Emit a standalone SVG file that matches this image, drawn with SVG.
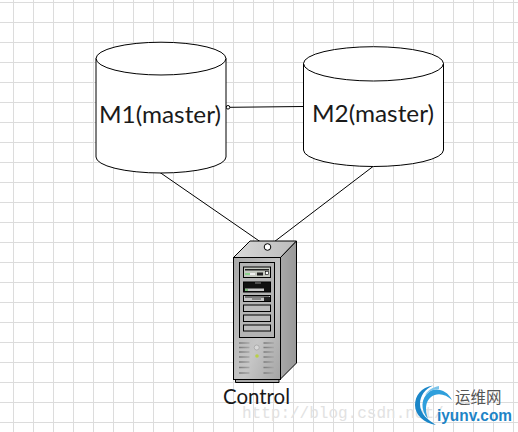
<svg xmlns="http://www.w3.org/2000/svg" width="518" height="432" viewBox="0 0 518 432">
<style>
.g{stroke:#dcdcdc;stroke-width:1;fill:none}
.c{stroke:#000;stroke-width:1;fill:#fff}
.w{stroke:#000;stroke-width:1;fill:none}
.t{font-family:"Lato","Liberation Sans",sans-serif;fill:#1a1a1a}
.bay{fill:#bdbdbd;stroke:#000;stroke-width:1}
.v{stroke-width:1.6;stroke:url(#vent);fill:none}
</style>
<defs>
<linearGradient id="front" x1="0" y1="0" x2="1" y2="1"><stop offset="0" stop-color="#a9a9a9"/><stop offset=".6" stop-color="#c6c6c6"/><stop offset="1" stop-color="#a4a4a4"/></linearGradient>
<linearGradient id="side" x1="0" y1="0" x2="1" y2="0"><stop offset="0" stop-color="#a8a8a8"/><stop offset="1" stop-color="#989898"/></linearGradient>
<linearGradient id="top" x1="0" y1="0" x2="1" y2="0"><stop offset="0" stop-color="#d8d8d8"/><stop offset="1" stop-color="#bcbcbc"/></linearGradient>
<linearGradient id="vent" x1="0" y1="0" x2="1" y2="0"><stop offset="0" stop-color="#7a7a7a"/><stop offset="1" stop-color="#a8a8a8"/></linearGradient>
</defs>
<rect width="518" height="432" fill="#fff"/>
<path class="g" d="M13.5 0V432M33.5 0V432M53.5 0V432M73.5 0V432M93.5 0V432M113.5 0V432M133.5 0V432M153.5 0V432M173.5 0V432M193.5 0V432M213.5 0V432M233.5 0V432M253.5 0V432M273.5 0V432M293.5 0V432M313.5 0V432M333.5 0V432M353.5 0V432M373.5 0V432M393.5 0V432M413.5 0V432M433.5 0V432M453.5 0V432M473.5 0V432M493.5 0V432M513.5 0V432M0 2.5H518M0 22.5H518M0 42.5H518M0 62.5H518M0 82.5H518M0 102.5H518M0 122.5H518M0 142.5H518M0 162.5H518M0 182.5H518M0 202.5H518M0 222.5H518M0 242.5H518M0 262.5H518M0 282.5H518M0 302.5H518M0 322.5H518M0 342.5H518M0 362.5H518M0 382.5H518M0 402.5H518M0 422.5H518"/>
<text x="242" y="418" font-family="'Liberation Mono',monospace" font-size="16" fill="#e2e2e2">http://blog.csdn.net/</text>
<g id="connectors">
<path class="w" d="M230 107.3L303.5 106.5M160 172.5L265 245M373 166.500L270 245"/>
<circle class="c" cx="228" cy="107.3" r="1.8"/>
</g>
<g id="m1">
<path class="c" d="M96 58.5A65 16.3 0 0 1 226 58.5V157A65 16 0 0 1 96 157Z"/>
<path class="w" d="M96 58.5A65 16.5 0 0 0 226 58.5"/>
<text class="t" x="160" y="123" font-size="24" text-anchor="middle" textLength="122" lengthAdjust="spacingAndGlyphs">M1(master)</text>
</g>
<g id="m2">
<path class="c" d="M303.5 63.5A70 16.800 0 0 1 443.5 63.5V150A70 16.5 0 0 1 303.5 150Z"/>
<path class="w" d="M303.5 63.5A70 17.5 0 0 0 443.5 63.5"/>
<text class="t" x="373" y="122" font-size="24" text-anchor="middle" textLength="122" lengthAdjust="spacingAndGlyphs">M2(master)</text>
</g>
<g id="control">
<path d="M235.5 379H279V382.5H235.5Z" fill="#a8a8a8" stroke="#000"/>
<path d="M233.5 257.5L250 241H296.5L280.5 257.5Z" fill="url(#top)" stroke="#000"/>
<path d="M280.5 257.5L296.5 241V363L280.5 379Z" fill="url(#side)" stroke="#000"/>
<rect x="233.5" y="257.5" width="47" height="122" fill="url(#front)" stroke="#000"/>
<rect x="239.5" y="262.5" width="35" height="75" fill="#b4b4b4" stroke="#000"/>
<rect x="243.5" y="267" width="27" height="10.5" fill="#c4c8c0" stroke="#000"/>
<rect x="245" y="269" width="24" height="1.5" fill="#222"/>
<rect x="245" y="273" width="5" height="2" fill="#8ccf8c"/><rect x="250" y="273" width="5" height="2" fill="#eee"/><rect x="257" y="272.5" width="6" height="3" fill="#222"/><rect x="265.5" y="271.5" width="3" height="3" fill="#fff" stroke="#000" stroke-width=".6"/>
<rect x="243.5" y="282" width="27" height="10" fill="#111" stroke="#000"/>
<rect x="245" y="288.5" width="19" height="2.5" fill="#c8c8c8"/><rect x="245" y="289" width="3" height="2" fill="#7fc07f"/><rect x="255" y="282.5" width="6" height="1" fill="#888"/>
<rect x="243.5" y="295.5" width="27" height="6" fill="#c4c4c4" stroke="#000"/>
<rect x="245" y="296.5" width="24" height="1" fill="#222"/><rect x="264" y="297" width="6" height="4" fill="#222"/><rect x="252" y="297.5" width="9" height="2.5" fill="#888"/>
<rect class="bay" x="243.5" y="305" width="27" height="6.5"/>
<rect class="bay" x="243.5" y="315" width="27" height="6.5"/>
<rect class="bay" x="243.5" y="325" width="27" height="6"/>
<path class="v" d="M239 343H249.5M239 347.5H249.5M239 352H249.5M239 357H249.5M239 362H249.5M239 367.5H249.5M239 373H249.5"/>
<path class="v" d="M263.5 343H274M263.5 347.5H274M263.5 352H274M263.5 357H274M263.5 362H274M263.5 367.5H274M263.5 373H274"/>
<circle cx="256.7" cy="347.5" r="2.5" fill="#d8d8d8" stroke="#999" stroke-width=".6"/>
<circle cx="257" cy="356" r="1.8" fill="#b8d048"/>
<circle cx="267.5" cy="247" r="3.3" fill="#fff" stroke="#000"/>
<text class="t" x="256.5" y="404" font-size="21" text-anchor="middle" textLength="67" lengthAdjust="spacingAndGlyphs">Control</text>
</g>
<g id="logo">
<path d="M433 385.500C421 387 415 396 415 405C415 415 424 423 436 425C428 420 420 414 420 404C420 396 425 389 433 385.500Z" fill="#1a86c8"/>
<path d="M452 400C447 390 436 387 429 392C421 398 420 410 428 419C425 410 425 402 431 397C437 392 446 394 452 400Z" fill="#2f9fdc"/>
<path d="M439 386C433 387 428 390 425 395C429 391 434 389 439 389Z" fill="#7cc4ea"/>
<text x="455" y="403" font-family="'Noto Sans CJK SC',sans-serif" font-size="15.5" fill="#555">运维网</text>
<text x="437" y="421" font-family="'Liberation Sans',sans-serif" font-weight="bold" font-size="16.5" fill="#1d84c6" textLength="75" lengthAdjust="spacingAndGlyphs">iyunv.com</text>
</g>
</svg>
